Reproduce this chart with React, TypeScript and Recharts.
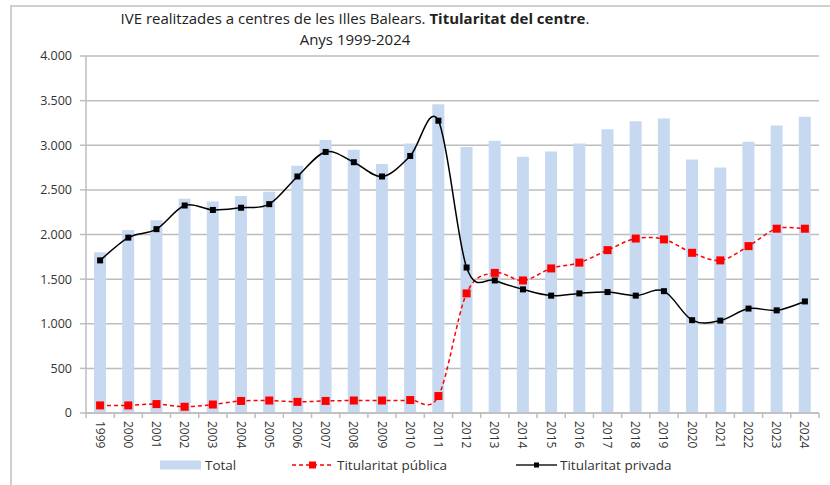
import React from "react"
import { Bar, CartesianGrid, ComposedChart, Line, XAxis, YAxis } from "recharts"

// IVE a les Illes Balears per titularitat del centre, 1999-2024
const years = [
  "1999", "2000", "2001", "2002", "2003", "2004", "2005", "2006", "2007",
  "2008", "2009", "2010", "2011", "2012", "2013", "2014", "2015", "2016",
  "2017", "2018", "2019", "2020", "2021", "2022", "2023", "2024",
]
const total = [
  1800, 2050, 2160, 2400, 2370, 2430, 2480, 2770, 3060, 2950, 2790, 3020, 3460,
  2980, 3050, 2870, 2930, 3020, 3180, 3270, 3300, 2840, 2750, 3040, 3220, 3320,
]
const publica = [
  85, 85, 100, 70, 95, 135, 140, 125, 135, 140, 140, 145, 190,
  1340, 1570, 1485, 1620, 1685, 1825, 1955, 1945, 1795, 1710, 1870, 2065, 2065,
]
const privada = [
  1710, 1965, 2060, 2325, 2275, 2300, 2340, 2650, 2925, 2810, 2650, 2880, 3275,
  1630, 1485, 1385, 1315, 1340, 1355, 1315, 1365, 1040, 1035, 1170, 1150, 1250,
]
const yTicks = [0, 500, 1000, 1500, 2000, 2500, 3000, 3500, 4000]

const data = years.map((year, i) => ({
  year,
  total: total[i],
  publica: publica[i],
  privada: privada[i],
}))

const W = 830
const H = 485
const M = { top: 56, right: 11, bottom: 27, left: 0 }
const Y_AXIS_W = 86
const HALF_BAND = (W - M.left - M.right - Y_AXIS_W) / years.length / 2
const TEXT = "#333"
const GRID = "#bdbdbd"
const BAR = "#c6d9f1"

// Excel-style smoothed line (Catmull-Rom through every point)
function excelSmooth(context: any) {
  let pts: number[][] = []
  return {
    areaStart() {},
    areaEnd() {},
    lineStart() {
      pts = []
    },
    point(x: number, y: number) {
      pts.push([+x, +y])
    },
    lineEnd() {
      const n = pts.length
      if (!n) return
      context.moveTo(pts[0][0], pts[0][1])
      for (let i = 0; i < n - 1; i++) {
        const p0 = pts[i - 1] || pts[i]
        const p1 = pts[i]
        const p2 = pts[i + 1]
        const p3 = pts[i + 2] || p2
        context.bezierCurveTo(
          p1[0] + (p2[0] - p0[0]) / 6,
          p1[1] + (p2[1] - p0[1]) / 6,
          p2[0] - (p3[0] - p1[0]) / 6,
          p2[1] - (p3[1] - p1[1]) / 6,
          p2[0],
          p2[1],
        )
      }
    },
  }
}

const squareDot = (size: number, fill: string) => (props: any) => {
  const { cx, cy, index } = props
  if (cx == null || cy == null) return <g key={index} />
  return <rect key={index} x={cx - size / 2} y={cy - size / 2} width={size} height={size} fill={fill} />
}

function YearTick(props: any) {
  const { x, y, payload, index } = props
  const axisY = y - 7
  return (
    <g>
      <line x1={x + HALF_BAND} x2={x + HALF_BAND} y1={axisY} y2={axisY + 5} stroke={GRID} strokeWidth={1.5} />
      {index === 0 && (
        <line x1={x - HALF_BAND} x2={x - HALF_BAND} y1={axisY} y2={axisY + 5} stroke={GRID} strokeWidth={1.5} />
      )}
      <text
        x={x}
        y={y + 1}
        transform={`rotate(90, ${x}, ${y + 1})`}
        textAnchor="start"
        dominantBaseline="central"
        fontSize={12}
        fill={TEXT}
      >
        {payload.value}
      </text>
    </g>
  )
}

const fmt = (v: number) => v.toLocaleString("de-DE")

const legendItem = { position: "absolute" as const, top: 455, height: 20, display: "flex", alignItems: "center" }

export default function App() {
  return (
    <div
      style={{
        position: "absolute",
        left: 0,
        top: 0,
        width: W,
        height: H,
        overflow: "hidden",
        background: "#fff",
        fontFamily: '"Open Sans", sans-serif',
        color: TEXT,
      }}
    >
      <div
        style={{
          position: "absolute",
          left: 10,
          top: 5,
          width: 900,
          height: 600,
          borderTop: "2px solid #cfcfcf",
          borderLeft: "2px solid #cfcfcf",
        }}
      />
      <div style={{ position: "absolute", left: 0, width: 710, top: 8, textAlign: "center", fontSize: 15, lineHeight: "21px", color: "#222" }}>
        <div>
          IVE realitzades a centres de les Illes Balears. <b>Titularitat del centre</b>.
        </div>
        <div>Anys 1999-2024</div>
      </div>

      <div style={{ position: "absolute", left: 0, top: 0 }}>
        <ComposedChart width={W} height={H} data={data} margin={M}>
          <CartesianGrid vertical={false} stroke={GRID} strokeWidth={1.5} />
          <XAxis
            dataKey="year"
            interval={0}
            height={45}
            tickSize={5}
            tickMargin={2}
            tickLine={false}
            axisLine={{ stroke: GRID, strokeWidth: 1.5 }}
            tick={<YearTick />}
          />
          <YAxis
            width={Y_AXIS_W}
            domain={[0, 4000]}
            ticks={yTicks}
            tickFormatter={fmt}
            tickSize={6}
            tickMargin={8}
            tick={{ fontSize: 12.5, fill: TEXT }}
            tickLine={{ stroke: GRID, strokeWidth: 1.5 }}
            axisLine={{ stroke: GRID, strokeWidth: 1.5 }}
          />
          <Bar dataKey="total" fill={BAR} barSize={12} isAnimationActive={false} />
          <Line
            dataKey="publica"
            type={excelSmooth as any}
            stroke="#ff0000"
            strokeWidth={1.5}
            strokeDasharray="4 3"
            dot={squareDot(8, "#ff0000")}
            activeDot={false}
            isAnimationActive={false}
          />
          <Line
            dataKey="privada"
            type={excelSmooth as any}
            stroke="#000"
            strokeWidth={1.5}
            dot={squareDot(6, "#000")}
            activeDot={false}
            isAnimationActive={false}
          />
        </ComposedChart>
      </div>

      <div style={{ ...legendItem, left: 160, fontSize: 13.5 }}>
        <svg width={41} height={10} style={{ marginRight: 4 }}>
          <rect width={41} height={9} y={0.5} fill={BAR} />
        </svg>
        <span>Total</span>
      </div>
      <div style={{ ...legendItem, left: 292, fontSize: 13.5 }}>
        <svg width={41} height={10} style={{ marginRight: 4 }}>
          <line x1={0} x2={41} y1={5} y2={5} stroke="#ff0000" strokeWidth={1.5} strokeDasharray="4 3" />
          <rect x={17} y={1.5} width={7} height={7} fill="#ff0000" />
        </svg>
        <span>Titularitat pública</span>
      </div>
      <div style={{ ...legendItem, left: 516, fontSize: 13.5 }}>
        <svg width={41} height={10} style={{ marginRight: 3 }}>
          <line x1={0} x2={41} y1={5} y2={5} stroke="#555" strokeWidth={2} />
          <rect x={18} y={2.5} width={5} height={5} fill="#000" />
        </svg>
        <span>Titularitat privada</span>
      </div>
    </div>
  )
}
